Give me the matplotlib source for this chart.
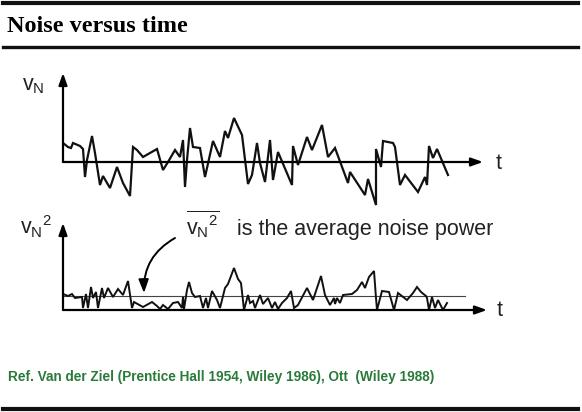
import numpy as np
import matplotlib
matplotlib.use("Agg")
import matplotlib.pyplot as plt
from matplotlib.lines import Line2D

plt.rcParams['font.family'] = ['Liberation Sans', 'DejaVu Sans']

# noise trace v_N(t) (time, amplitude)
t_top = [0, 5, 8, 10, 17, 20, 22, 24, 29, 32, 37, 40, 47, 54, 60, 67, 70, 74, 80, 94,
         100, 105, 112, 117, 120, 122, 124, 127, 130, 137, 142, 150, 157, 162, 165, 171,
         179, 185, 189, 194, 197, 202, 207, 210, 215, 229, 230, 235, 244, 249, 259, 265,
         272, 285, 287, 302, 305, 313, 313, 318, 320, 330, 332, 337, 342, 355, 362, 364,
         366, 370, 374, 385]
v_top = [19, 15, 14, 19, 16, 13, -15, 2, 26, 9, -23, -14, -26, -5, -21, -34, 15, 12, 5, 13,
         -8, 0, 12, 5, 22, -25, 2, 34, 15, 14, -15, 21, 5, 31, 24, 44,
         27, -22, -13, 19, -1, -20, 22, -18, 10, -23, 16, -3, 25, 12, 37, 5,
         14, -21, -10, -33, -17, -43, 13, -5, 21, 19, 15, -23, -13, -30, -15, -23,
         16, 4, 13, -13]

# noise power trace v_N^2(t)
t_bot = [0, 5, 9, 12, 19, 20, 23, 25, 28, 30, 33, 35, 39, 41, 45, 50, 55, 60, 65, 69,
         71, 80, 89, 94, 97, 100, 105, 110, 115, 119, 120, 121, 124, 126, 129, 132, 137,
         140, 143, 145, 149, 154, 157, 162, 165, 171, 175, 178, 181, 185, 187, 190, 192,
         197, 200, 205, 209, 212, 215, 219, 224, 228, 231, 235, 244, 250, 258, 262, 267,
         271, 272, 274, 277, 280, 289, 294, 299, 302, 306, 311, 313, 314, 319, 326, 331,
         335, 344, 350, 354, 358, 363, 364, 366, 369, 372, 375, 380, 384]
p_bot = [16, 14, 16, 12, 13, 2, 16, 2, 23, 12, 18, 2, 22, 12, 22, 13, 21, 15, 29, 2,
         8, 3, 8, 4, 1, 5, 1, 7, 8, 2, 13, 1, 20, 28, 17, 13, 14,
         2, 12, 2, 19, 10, 2, 22, 26, 42, 31, 27, 0, 15, 7, 9, 2,
         15, 6, 12, 2, 8, 1, 7, 12, 19, 2, 5, 22, 10, 34, 15, 5,
         12, 6, 12, 7, 15, 16, 20, 28, 22, 33, 39, 12, 0, 19, 18, 0,
         17, 10, 17, 23, 18, 14, 12, 0, 13, 2, 10, 0, 7]
p_avg = 14

W, H = 582, 412
fig = plt.figure(figsize=(W / 100, H / 100), dpi=100)

def px_axes(x0, x1, y_top, y_bot):
    ax = fig.add_axes([x0 / W, 1 - y_bot / H, (x1 - x0) / W, (y_bot - y_top) / H])
    ax.set_axis_off()
    return ax

arrow = dict(arrowstyle='-|>,head_length=0.7,head_width=0.25', color='black', lw=1.6,
             shrinkA=0, shrinkB=0)

# top panel
ax1 = px_axes(63, 520, 65, 215)
ax1.set_xlim(0, 457)
ax1.set_ylim(-53, 97)
ax1.plot(t_top, v_top, color='#111111', lw=1.6, solid_joinstyle='miter')
ax1.annotate('', xy=(420, 0), xytext=(0, 0), arrowprops=arrow)
ax1.annotate('', xy=(0, 89), xytext=(0, 0), arrowprops=arrow)

# bottom panel
ax2 = px_axes(63, 520, 215, 325)
ax2.set_xlim(0, 457)
ax2.set_ylim(-15, 95)
ax2.plot([0, 402], [p_avg, p_avg], color='#444444', lw=0.8)
ax2.plot(t_bot, p_bot, color='#111111', lw=1.4, solid_joinstyle='miter')
ax2.annotate('', xy=(424, 0), xytext=(0, 0), arrowprops=arrow)
ax2.annotate('', xy=(0, 87), xytext=(0, 0), arrowprops=arrow)
ax2.annotate('', xy=(81, 17), xytext=(112, 72),
             arrowprops=dict(arrowstyle='-|>,head_length=0.8,head_width=0.3', color='black',
                             lw=1.4, shrinkA=0, shrinkB=0, connectionstyle='arc3,rad=0.3'))

def ftext(x, y, s, **kw):
    fig.text(x / W, 1 - y / H, s, va='baseline', **kw)

# rules
for y, lw in [(3, 3), (47, 2.4), (409, 3)]:
    fig.add_artist(Line2D([3 / W, 578 / W], [1 - y / H, 1 - y / H], color='#111111', lw=lw))

ftext(7, 32, 'Noise versus time', family='Liberation Serif', weight='bold', fontsize=17.5)

lab = dict(fontsize=15.5, color='#222222')
ftext(22, 90, r'$\mathregular{v_N}$', **lab)
ftext(496, 169, 't', **lab)
ftext(20, 234, r'$\mathregular{v_N{}^2}$', **lab)
ftext(186, 234, r'$\overline{\mathregular{v_N{}^2}}$', **lab)
ftext(237, 235, 'is the average noise power', **lab)
ftext(497, 316, 't', **lab)

ftext(8, 381, 'Ref. Van der Ziel (Prentice Hall 1954, Wiley 1986), Ott  (Wiley 1988)',
      fontsize=9.8, weight='bold', color='#2a7a3a')

fig.savefig('out.png', dpi=100)
